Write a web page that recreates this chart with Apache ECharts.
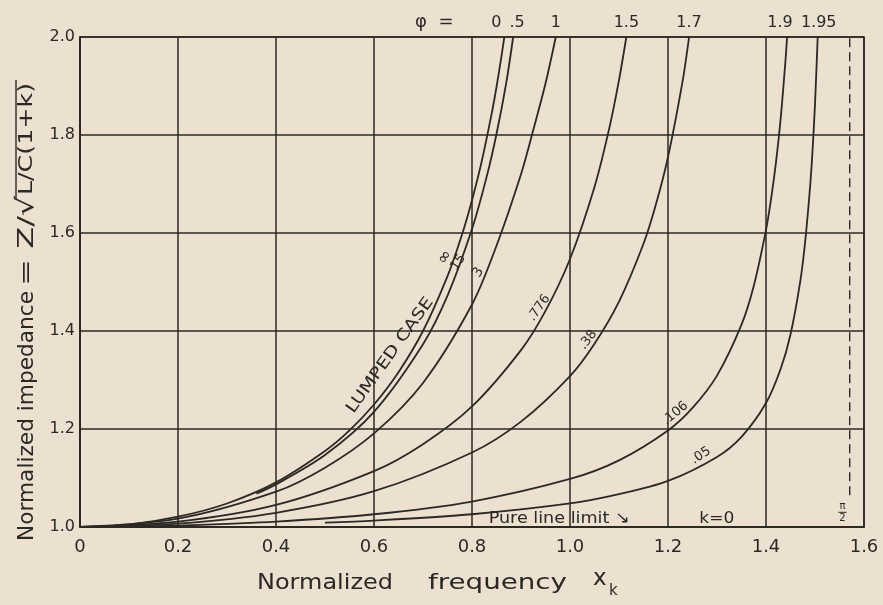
<!DOCTYPE html>
<html><head><meta charset="utf-8">
<script src="https://cdn.jsdelivr.net/npm/echarts@6/dist/echarts.min.js"></script>
<style>html,body{margin:0;padding:0;background:#ece1d0}#c{width:883px;height:605px}</style>
</head><body><div id="c"></div>
<script>
// ---- data ----
const xTicks = [0, 0.2, 0.4, 0.6, 0.8, 1.0, 1.2, 1.4, 1.6];
const yTicks = [1.0, 1.2, 1.4, 1.6, 1.8, 2.0];
const phiLabels = ['0', '.5', '1', '1.5', '1.7', '1.9', '1.95'];
const kLabels = ['\u221e', '15', '3', '.776', '.38', '.106', '.05'];

// lumped case (k = infinity, phi = 0)
const xLumped = [0, 0.1, 0.2, 0.3, 0.4, 0.5, 0.55, 0.6, 0.65, 0.7, 0.75, 0.78, 0.8, 0.82, 0.84, 0.85, 0.86, 0.866];
const yLumped = [1, 1.005, 1.021, 1.048, 1.091, 1.155, 1.197, 1.25, 1.316, 1.4, 1.512, 1.598, 1.667, 1.747, 1.843, 1.898, 1.96, 2.0];
// k = 15 (phi = .5)
const xK15 = [0.36, 0.4, 0.5, 0.6, 0.7, 0.75, 0.8, 0.83, 0.85, 0.87, 0.884];
const yK15 = [1.068, 1.087, 1.147, 1.235, 1.373, 1.472, 1.608, 1.715, 1.802, 1.907, 2.0];
// k = 3 (phi = 1)
const xK3 = [0, 0.2, 0.4, 0.5, 0.6, 0.7, 0.8, 0.85, 0.9, 0.925, 0.95, 0.971];
const yK3 = [1, 1.017, 1.072, 1.121, 1.191, 1.294, 1.454, 1.574, 1.72, 1.81, 1.905, 2.0];
// k = .776 (phi = 1.5)
const xK776 = [0, 0.2, 0.4, 0.6, 0.7, 0.8, 0.9, 0.95, 1.0, 1.05, 1.08, 1.1, 1.115];
const yK776 = [1, 1.011, 1.045, 1.114, 1.169, 1.246, 1.361, 1.441, 1.547, 1.694, 1.813, 1.912, 2.0];
// k = .38 (phi = 1.7)
const xK38 = [0, 0.2, 0.4, 0.6, 0.8, 0.9, 1.0, 1.05, 1.1, 1.15, 1.175, 1.2, 1.23, 1.243];
const yK38 = [1, 1.007, 1.029, 1.073, 1.152, 1.215, 1.308, 1.374, 1.46, 1.578, 1.657, 1.755, 1.911, 2.0];
// k = .106 (phi = 1.9)
const xK106 = [0.1, 0.2, 0.4, 0.6, 0.8, 1.0, 1.1, 1.2, 1.25, 1.3, 1.35, 1.375, 1.4, 1.41, 1.42, 1.43, 1.44, 1.443];
const yK106 = [1.001, 1.003, 1.011, 1.026, 1.052, 1.098, 1.136, 1.197, 1.243, 1.309, 1.413, 1.492, 1.606, 1.667, 1.741, 1.834, 1.955, 2.0];
// k = .05 (phi = 1.95)
const xK05 = [0.5, 0.6, 0.8, 1.0, 1.1, 1.2, 1.3, 1.35, 1.4, 1.43, 1.45, 1.47, 1.48, 1.49, 1.495, 1.5, 1.5055];
const yK05 = [1.009, 1.013, 1.026, 1.048, 1.067, 1.094, 1.143, 1.184, 1.253, 1.323, 1.393, 1.502, 1.583, 1.695, 1.769, 1.863, 2.0];

// pi/2 asymptote (dashed)
const xAsym = [1.5708, 1.5708];
const yAsym = [1.065, 2.0];

const curveX = [xLumped, xK15, xK3, xK776, xK38, xK106, xK05];
const curveY = [yLumped, yK15, yK3, yK776, yK38, yK106, yK05];

// ---- layout / style (not data) ----
const phiLabelDx = [-8, 4, 0, 0, 0, -7, 1];
const kLabelPos = [[0.745, 1.55], [0.772, 1.54], [0.813, 1.52], [0.937, 1.447], [1.037, 1.382], [1.215, 1.232], [1.267, 1.146]];
const kLabelRot = [55, 55, 60, 55, 52, 40, 33];
const kLabelSize = [17, 13, 14, 13, 13, 13, 13];

const INK = '#2b2825';
const FAM = '"DejaVu Sans", sans-serif';
const zip = (a, b) => a.map((v, i) => [v, b[i]]);
const mctx = document.createElement('canvas').getContext('2d');
const measure = (t, size) => { mctx.font = size + 'px "DejaVu Sans"'; return mctx.measureText(t).width; };

const chart = echarts.init(document.getElementById('c'), null, {renderer: 'canvas'});

const series = curveX.map((xs, i) => ({
  type: 'line',
  data: zip(xs, curveY[i]),
  showSymbol: false,
  smooth: 0.3,
  lineStyle: {color: INK, width: 1.8},
  silent: true,
  z: 3
}));
series.push({
  type: 'line',
  data: zip(xAsym, yAsym),
  showSymbol: false,
  lineStyle: {color: INK, width: 1.4, type: [9, 5]},
  silent: true
});

chart.setOption({
  backgroundColor: '#ece1d0',
  animation: false,
  grid: {left: 80, top: 37, width: 784, height: 490, show: true, borderColor: INK, borderWidth: 1.6},
  xAxis: {
    type: 'value', min: 0, max: 1.6, interval: 0.2,
    axisLine: {show: true, lineStyle: {color: INK, width: 1.6}},
    axisTick: {show: false},
    splitLine: {show: true, lineStyle: {color: INK, width: 1.5}},
    axisLabel: {margin: 11, color: INK, fontSize: 18, fontFamily: FAM,
      formatter: v => (v === 0 ? '0' : v.toFixed(1))}
  },
  yAxis: {
    type: 'value', min: 1.0, max: 2.0, interval: 0.2,
    axisLine: {show: true, lineStyle: {color: INK, width: 1.6}},
    axisTick: {show: false},
    splitLine: {show: true, lineStyle: {color: INK, width: 1.5}},
    axisLabel: {margin: 5, color: INK, fontSize: 16, fontFamily: FAM,
      formatter: v => v.toFixed(1)}
  },
  series: series
});

// ---- annotations ----
const px = (x, y) => chart.convertToPixel({gridIndex: 0}, [x, y]);
const g = [];
// text helper; fitW (optional) stretches the text along its baseline to a target length
const txt = (p, text, size, rotDeg, extra, fitW) => ({
  type: 'text', x: p[0], y: p[1], rotation: (rotDeg || 0) * Math.PI / 180, silent: true, z: 10,
  scaleX: fitW ? fitW / measure(text, size) : 1,
  style: Object.assign({text: text, fontSize: size, fontFamily: FAM, fill: INK, align: 'center', verticalAlign: 'middle'}, extra || {})
});

// phi labels above the top end of each curve
curveX.forEach((xs, i) => {
  const ys = curveY[i];
  const p = px(xs[xs.length - 1], ys[ys.length - 1]);
  g.push(txt([p[0] + phiLabelDx[i], p[1] - 6], phiLabels[i], 16, 0, {verticalAlign: 'bottom'}));
});

kLabels.forEach((t, i) => g.push(txt(px(kLabelPos[i][0], kLabelPos[i][1]), t, kLabelSize[i], kLabelRot[i])));
g.push(txt(px(0.633, 1.35), 'LUMPED CASE', 16, 54.5, null, 138));
g.push(txt(px(0.834, 1.0), 'Pure line limit \u2198', 16, 0, {align: 'left', verticalAlign: 'bottom'}, 141));
g.push(txt(px(1.264, 1.0), 'k=0', 16, 0, {align: 'left', verticalAlign: 'bottom'}, 35));
const pp = px(1.556, 1.03);
g.push(txt([pp[0], pp[1] - 6], '\u03c0', 10, 0));
g.push(txt([pp[0], pp[1] + 6], '2', 10, 0));
g.push({type: 'line', silent: true, shape: {x1: pp[0] - 4, y1: pp[1], x2: pp[0] + 4, y2: pp[1]}, style: {stroke: INK, lineWidth: 1}});
const phiPos = px(0.723, 2.0);
g.push(txt([phiPos[0], phiPos[1] - 15], '\u03c6  =', 18, 0));

// y axis title, built from pieces reading bottom-to-top
const TX = 27, ROT = 90;
const L = {align: 'left'};
g.push(txt([TX, 541], 'Normalized impedance', 22, ROT, L, 250));
g.push(txt([TX, 286], '= Z/', 22, ROT, L, 70));
g.push(txt([TX, 216], '\u221a', 24, ROT, L, 20));
g.push(txt([TX, 195], 'L/C(1+k)', 19, ROT, L, 112));
g.push({type: 'line', silent: true, shape: {x1: TX - 11, y1: 199, x2: TX - 11, y2: 80}, style: {stroke: INK, lineWidth: 1.4}});

// x axis title
g.push(txt([257, 583], 'Normalized', 22, 0, L, 136));
g.push(txt([428, 583], 'frequency', 22, 0, L, 139));
g.push(txt([593, 579], 'x', 23, 0, L));
g.push(txt([609, 591], 'k', 15, 0, L));

chart.setOption({graphic: g});
</script>
</body></html>
